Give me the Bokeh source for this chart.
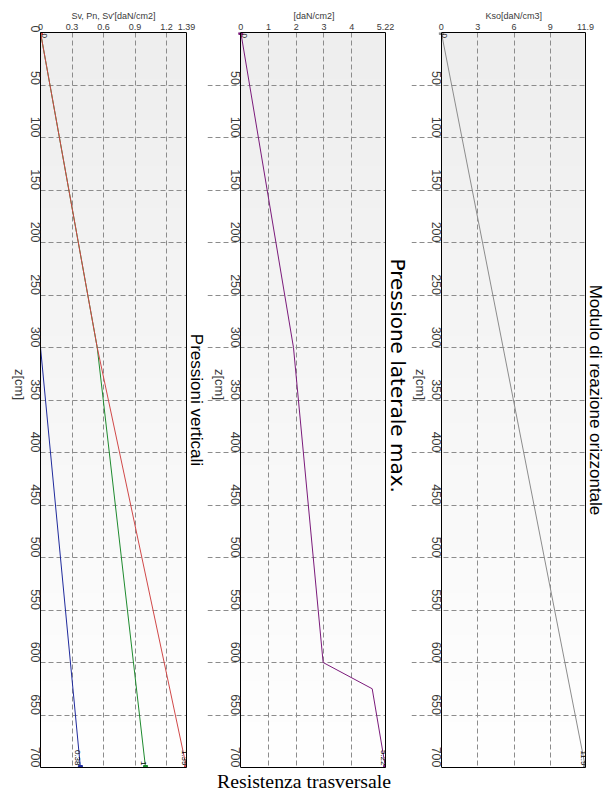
import math
import numpy as np
from bokeh.plotting import figure
from bokeh.models import (Range1d, LinearAxis, FixedTicker, Grid, LabelSet, Title,
                          ColumnDataSource)
from bokeh.layouts import row
from bokeh.embed import file_html
from bokeh.resources import INLINE
from bokeh.core.properties import value

# Depth along the pile (cm)
z_ticks = list(range(0, 701, 50))
z_max = 700

# Pressioni verticali [daN/cm2]
z_vert = [0, 300, 700]
sv_tot = [0.0, 0.54, 1.39]     # Sv
sv_eff = [0.0, 0.54, 1.0]      # Sv'
pn = [0.0, 0.0, 0.38]          # Pn
vert_ticks = [0, 0.3, 0.6, 0.9, 1.2, 1.39]
vert_max = 1.39

# Pressione laterale max. [daN/cm2]
z_lat = [0, 300, 600, 625, 700]
p_lat = [0.0, 1.9, 2.97, 4.74, 5.22]
lat_ticks = [0, 1, 2, 3, 4, 5.22]
lat_max = 5.22

# Modulo di reazione orizzontale Kso [daN/cm3]
z_kso = [0, 700]
kso = [0.0, 11.9]
kso_ticks = [0, 3, 6, 9, 11.9]
kso_max = 11.9

FONT = "Liberation Sans"
H = 791
TOP = 32
BOTTOM = 24
GRID = "#8c8c8c"
LABEL = "#3a3a3a"
ROT = -math.pi / 2   # text read top to bottom

# plot box background: light grey fading to white towards the bottom
N_SHADE = 160
shade = np.linspace(0xEE, 0xFF, N_SHADE).astype(np.uint8)
box_bg = np.empty((N_SHADE, 1), dtype=np.uint32)
bg_view = box_bg.view(dtype=np.uint8).reshape((N_SHADE, 1, 4))
bg_view[:, 0, 0] = shade
bg_view[:, 0, 1] = shade
bg_view[:, 0, 2] = shade
bg_view[:, 0, 3] = 255


def border_axis(bounds):
    return LinearAxis(ticker=FixedTicker(ticks=[]), bounds=bounds, axis_label=None,
                      major_tick_out=0, major_tick_in=0, minor_tick_out=0, minor_tick_in=0,
                      major_label_standoff=0, axis_label_standoff=0,
                      major_label_text_font_size="0px", axis_line_color="black")


def make_panel(canvas_left, zero_px, right_px, pad_left, pad_right, vmax, vticks, vlabel,
               vlabel_offset, title, title_font, title_size, title_start, series):
    # pad_left > 0: the depth axis sits in its own side panel;
    # pad_left == 0: the frame starts at the canvas edge and the depth axis is pinned at 0
    frame_left = canvas_left + pad_left
    unit = (right_px - zero_px) / vmax
    x_start = -(zero_px - frame_left) / unit
    p = figure(width=int(round(right_px - canvas_left + pad_right)), height=H,
               x_range=Range1d(x_start, vmax), y_range=Range1d(z_max, 0),
               x_axis_type=None, y_axis_type=None,
               output_backend="svg", toolbar_location=None,
               min_border_left=pad_left, min_border_right=pad_right,
               min_border_top=TOP, min_border_bottom=BOTTOM,
               outline_line_color=None, background_fill_color="white",
               border_fill_color="white")

    p.image_rgba(image=[box_bg], x=0, y=0, dw=vmax, dh=z_max, level="image")

    p.add_layout(Grid(dimension=0, ticker=FixedTicker(ticks=vticks[1:-1]),
                      grid_line_color=GRID, grid_line_dash="5 3", grid_line_width=1))
    p.add_layout(Grid(dimension=1, ticker=FixedTicker(ticks=z_ticks[1:-1]),
                      grid_line_color=GRID, grid_line_dash="5 3", grid_line_width=1))

    xa = LinearAxis(ticker=FixedTicker(ticks=vticks), bounds=(0, vmax),
                    major_label_overrides={vticks[-1]: f"{vmax:g}"},
                    major_label_text_font=FONT, major_label_text_font_size="9px",
                    major_label_text_color=LABEL, major_label_standoff=3,
                    major_tick_out=0, major_tick_in=0, minor_tick_out=0, minor_tick_in=0,
                    axis_line_color="black")
    p.add_layout(xa, "above")
    # quantity name above the value scale, centred over the plot box
    p.add_layout(Title(text=vlabel, align="left", offset=vlabel_offset,
                       vertical_align="bottom", standoff=0,
                       text_font=FONT, text_font_size="9px", text_font_style="normal",
                       text_color=LABEL), "above")

    ya = LinearAxis(ticker=FixedTicker(ticks=z_ticks), bounds=(0, z_max),
                    axis_label="z[cm]", axis_label_text_font=FONT,
                    axis_label_text_font_size="13px", axis_label_text_font_style="normal",
                    axis_label_text_color=LABEL, axis_label_standoff=4,
                    major_label_text_font=FONT, major_label_text_font_size="12.5px",
                    major_label_text_color=LABEL, major_label_standoff=5,
                    major_label_orientation=ROT,
                    major_tick_out=0, major_tick_in=0, minor_tick_out=0, minor_tick_in=0,
                    axis_line_color="black")
    if pad_left == 0:
        ya.fixed_location = 0
    ya.axis_label_orientation = ROT
    p.add_layout(ya, "left")

    p.add_layout(border_axis((0, z_max)), "right")
    p.add_layout(border_axis((0, vmax)), "below")
    if title_start is None:
        side_title = Title(text=title, align="center")
    else:
        side_title = Title(text=title, align="left", offset=title_start)
    side_title.update(vertical_align="bottom", standoff=0, text_font=title_font,
                      text_font_size=title_size, text_font_style="normal",
                      text_color="black")
    p.add_layout(side_title, "right")

    for xs, zs, color in series:
        p.line(x=xs, y=zs, line_color=color, line_width=1)
        p.scatter(x=[xs[0], xs[-1]], y=[zs[0], zs[-1]], marker="square", size=4,
                  fill_color=color, line_color=color)

    ends = ColumnDataSource(dict(x=[s[0][-1] for s in series],
                                 y=[s[1][-1] for s in series],
                                 t=[f"{s[0][-1]:g}" for s in series]))
    p.add_layout(LabelSet(source=ends, x="x", y="y", text="t", angle=ROT,
                          text_align="right", text_baseline="top", y_offset=2,
                          text_font=value(FONT), text_font_size=value("8px"),
                          text_color=value("black")))
    starts = ColumnDataSource(dict(x=[series[0][0][0]], y=[series[0][1][0]],
                                   t=[f"{series[0][0][0]:g}"]))
    p.add_layout(LabelSet(source=starts, x="x", y="y", text="t", angle=ROT,
                          text_align="left", text_baseline="bottom", x_offset=1, y_offset=-1,
                          text_font=value(FONT), text_font_size=value("8px"),
                          text_color=value("black")))
    return p


p1 = make_panel(0, 40, 186, 40, 21, vert_max, vert_ticks,
                "Sv, Pn, Sv'[daN/cm2]", 31, "Pressioni verticali", FONT, "17px", None,
                [(pn, z_vert, "#1f2a9c"), (sv_eff, z_vert, "#1e8a2e"),
                 (sv_tot, z_vert, "#d04848")])
p2 = make_panel(207, 240.5, 386, 0, 25, lat_max, lat_ticks,
                "[daN/cm2]", 86, "Pressione laterale max.", "DejaVu Sans", "20px", 226,
                [(p_lat, z_lat, "#7a1a7a")])
p3 = make_panel(411, 441, 586, 0, 20, kso_max, kso_ticks,
                "Kso[daN/cm3]", 74, "Modulo di reazione orizzontale", FONT, "17px", None,
                [(kso, z_kso, "#8c8c8c")])

# overall caption under the middle panel
p2.add_layout(Title(text="Resistenza trasversale", align="left", offset=9.5,
                    vertical_align="bottom", standoff=0,
                    text_font="Liberation Serif", text_font_size="19.8px",
                    text_font_style="normal", text_color="black"), "below")

layout = row(p1, p2, p3, spacing=0)
open("out.html", "w").write(file_html(layout, INLINE))
